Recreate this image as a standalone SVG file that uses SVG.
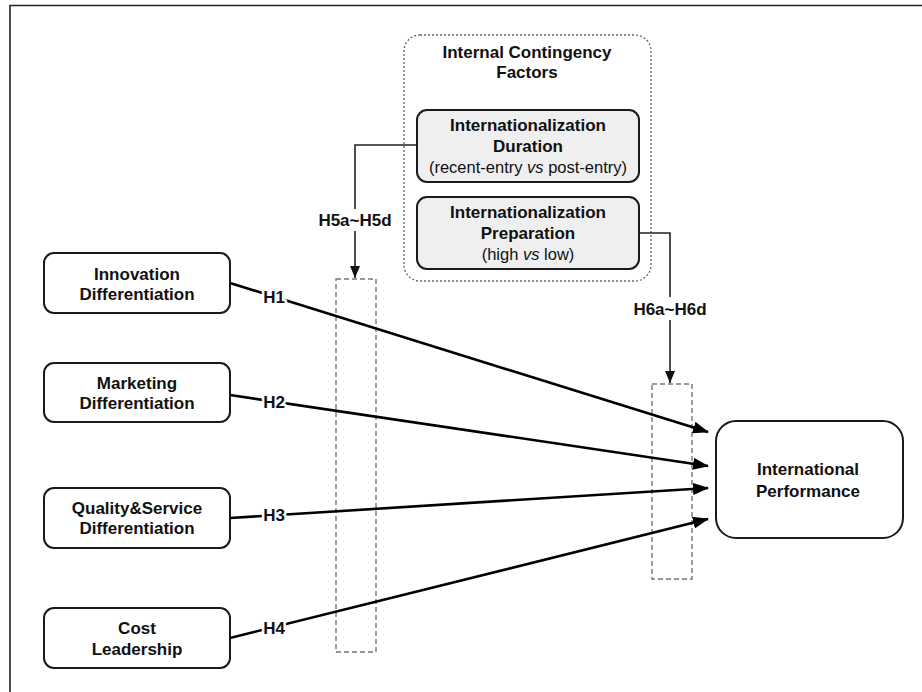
<svg xmlns="http://www.w3.org/2000/svg" width="922" height="692" viewBox="0 0 922 692">
<style>
.box{fill:#fff;stroke:#1a1a1a;stroke-width:2}
.gbox{fill:#efefef;stroke:#1a1a1a;stroke-width:2}
.t{font-family:"Liberation Sans",Arial,sans-serif;font-size:17px;font-weight:bold;fill:#111;text-anchor:middle}
.n{font-family:"Liberation Sans",Arial,sans-serif;font-size:16.5px;fill:#111;text-anchor:middle}
.lbl{font-family:"Liberation Sans",Arial,sans-serif;font-size:17px;font-weight:bold;fill:#111;text-anchor:middle;stroke:#fff;stroke-width:5px;paint-order:stroke;stroke-linejoin:round}
.main{fill:none;stroke:#000;stroke-width:2.6}
.thin{fill:none;stroke:#222;stroke-width:1.6}
.dash{fill:none;stroke:#777;stroke-width:1.4;stroke-dasharray:5,3}
.dot{fill:none;stroke:#666;stroke-width:1.3;stroke-dasharray:2,2}
</style>
<defs>
<marker id="ah" markerUnits="userSpaceOnUse" markerWidth="16" markerHeight="12" refX="15" refY="6" orient="auto">
<path d="M0,0 L16,6 L0,12 Z" fill="#000"/>
</marker>
<marker id="ah2" markerUnits="userSpaceOnUse" markerWidth="12" markerHeight="12" refX="12" refY="6" orient="auto">
<path d="M0,1 L12,6 L0,11 Z" fill="#111"/>
</marker>
</defs>
<rect x="0" y="0" width="922" height="692" fill="#fff"/>
<path d="M10,692 L10,5.5 L922,5.5" fill="none" stroke="#222" stroke-width="1.6"/>

<g id="contingency">
<rect class="dot" x="404" y="35" width="247" height="246" rx="16"/>
<text class="t" x="527" y="58">Internal Contingency</text>
<text class="t" x="527" y="78">Factors</text>
</g>
<g id="duration">
<rect class="gbox" x="417" y="110" width="222" height="72" rx="10"/>
<text class="t" x="528" y="131">Internationalization</text>
<text class="t" x="528" y="152">Duration</text>
<text class="n" x="528" y="173">(recent-entry  <tspan font-style="italic">vs</tspan> post-entry)</text>
</g>
<g id="preparation">
<rect class="gbox" x="417" y="197" width="222" height="72" rx="10"/>
<text class="t" x="528" y="218">Internationalization</text>
<text class="t" x="528" y="239">Preparation</text>
<text class="n" x="528" y="260">(high  <tspan font-style="italic">vs</tspan> low)</text>
</g>

<g id="innovation">
<rect class="box" x="44" y="253" width="186" height="60" rx="10"/>
<text class="t" x="137" y="280">Innovation</text>
<text class="t" x="137" y="300">Differentiation</text>
</g>
<g id="marketing">
<rect class="box" x="44" y="363" width="186" height="59" rx="10"/>
<text class="t" x="137" y="389">Marketing</text>
<text class="t" x="137" y="409">Differentiation</text>
</g>
<g id="quality">
<rect class="box" x="44" y="488" width="186" height="60" rx="10"/>
<text class="t" x="137" y="514">Quality&amp;Service</text>
<text class="t" x="137" y="534">Differentiation</text>
</g>
<g id="cost">
<rect class="box" x="44" y="608" width="186" height="60" rx="10"/>
<text class="t" x="137" y="634">Cost</text>
<text class="t" x="137" y="655">Leadership</text>
</g>
<g id="performance">
<rect class="box" x="716" y="421" width="187" height="117" rx="20"/>
<text class="t" x="808" y="475">International</text>
<text class="t" x="808" y="497">Performance</text>
</g>

<g id="moderators">
<rect class="dash" x="336" y="279" width="40" height="373"/>
<rect class="dash" x="652" y="384" width="40" height="195"/>
</g>

<g id="connectors">
<path class="thin" d="M417,145 L355,145 L355,209"/>
<path class="thin" d="M355,231 L355,278" marker-end="url(#ah2)"/>
<text class="t" x="355" y="226">H5a~H5d</text>
<path class="thin" d="M639,233 L670,233 L670,297"/>
<path class="thin" d="M670,320 L670,383" marker-end="url(#ah2)"/>
<text class="t" x="670" y="315">H6a~H6d</text>

<path class="main" d="M230,283 L708,432" marker-end="url(#ah)"/>
<path class="main" d="M230,395 L708,466" marker-end="url(#ah)"/>
<path class="main" d="M230,518 L708,488" marker-end="url(#ah)"/>
<path class="main" d="M230,638 L708,519" marker-end="url(#ah)"/>
<text class="lbl" x="274" y="303">H1</text>
<text class="lbl" x="274" y="408">H2</text>
<text class="lbl" x="274" y="521">H3</text>
<text class="lbl" x="274" y="634">H4</text>
</g>
</svg>
